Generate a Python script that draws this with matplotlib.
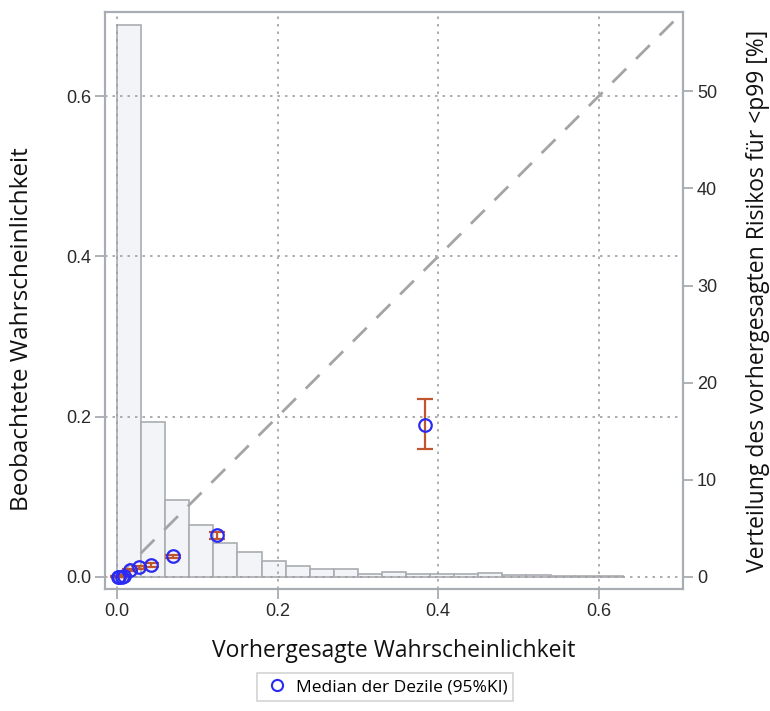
import matplotlib
matplotlib.use("Agg")
import matplotlib.pyplot as plt
from matplotlib.lines import Line2D
import numpy as np

# ---- data ----
bin_edges = [round(0.03 * i, 2) for i in range(22)]
hist_pct = [56.8, 16.0, 7.9, 5.3, 3.5, 2.6, 1.6, 1.1, 0.8, 0.8, 0.35,
            0.5, 0.3, 0.3, 0.3, 0.4, 0.2, 0.2, 0.05, 0.15, 0.15]

pred_median = [0.001, 0.003, 0.006, 0.009, 0.016, 0.027, 0.042, 0.070, 0.124, 0.384]
obs_median = [0.0, 0.0, 0.0005, 0.001, 0.009, 0.012, 0.015, 0.026, 0.052, 0.190]
obs_lower = [0.0, 0.0, 0.0, 0.0, 0.008, 0.0105, 0.013, 0.024, 0.0475, 0.160]
obs_upper = [0.001, 0.001, 0.0015, 0.002, 0.010, 0.0135, 0.017, 0.028, 0.0566, 0.2225]

xticks = [0.0, 0.2, 0.4, 0.6]
yticks_left = [0.0, 0.2, 0.4, 0.6]
yticks_right = [0, 10, 20, 30, 40, 50]

x_label = "Vorhergesagte Wahrscheinlichkeit"
y_label = "Beobachtete Wahrscheinlichkeit"
y2_label = "Verteilung des vorhergesagten Risikos für <p99 [%]"
legend_label = "Median der Dezile (95%KI)"

# ---- style ----
plt.rcParams["font.family"] = ["Liberation Sans", "DejaVu Sans"]
spine_col = "#a8adb3"
grid_col = "#a0a0a0"
label_font = ["Open Sans", "DejaVu Sans"]

fig = plt.figure(figsize=(7.7, 7.11), dpi=100)
ax = fig.add_axes([105 / 770, 1 - 589 / 711, (683 - 105) / 770, (589 - 12) / 711])
ax2 = ax.twinx()

lim_lo, lim_hi = -0.015, 0.705
scale = 82.5
ax.set_xlim(lim_lo, lim_hi)
ax.set_ylim(lim_lo, lim_hi)
ax2.set_ylim(lim_lo * scale, lim_hi * scale)

# histogram on right axis (drawn beneath)
widths = np.diff(bin_edges)
ax2.bar(bin_edges[:-1], hist_pct, width=widths, align="edge",
        facecolor="#f3f4f8", edgecolor="#a9acb0", linewidth=1.2, zorder=1)

ax.set_zorder(ax2.get_zorder() + 1)
ax.patch.set_visible(False)

# grid
ax.set_xticks(xticks)
ax.set_yticks(yticks_left)
ax.grid(True, linestyle=(0, (1.5, 3)), color=grid_col, linewidth=1.2)
ax.set_axisbelow(True)

# diagonal
ax.plot([0, lim_hi], [0, lim_hi], linestyle=(0, (7, 5)), color="#a4a4a4",
        linewidth=2, zorder=2)

# error bars + points
yerr = [np.array(obs_median) - np.array(obs_lower),
        np.array(obs_upper) - np.array(obs_median)]
ax.errorbar(pred_median, obs_median, yerr=yerr, fmt="none", ecolor="#c0562e",
            elinewidth=1.6, capsize=6, capthick=1.6, zorder=3)
ax.plot(pred_median, obs_median, linestyle="none", marker="o", markersize=9,
        markerfacecolor="none", markeredgecolor="#2a2af5", markeredgewidth=1.6,
        zorder=4)

# ticks/labels
ax2.set_yticks(yticks_right)
ax.set_xticklabels([f"{v:.1f}" for v in xticks])
ax.set_yticklabels([f"{v:.1f}" for v in yticks_left])
ax2.set_yticklabels([str(v) for v in yticks_right])
for a in (ax, ax2):
    a.tick_params(direction="out", length=7, width=1.3, color=spine_col,
                  labelsize=13, labelcolor="#2a2a2a", pad=3)
    for s in a.spines.values():
        s.set_color(spine_col)
        s.set_linewidth(1.5)

ax.set_xlabel(x_label, fontsize=16.5, family=label_font, color="#111111", labelpad=14)
ax.set_ylabel(y_label, fontsize=17.5, family=label_font, color="#111111")
ax.yaxis.set_label_coords(-0.122, 0.4506)
ax2.set_ylabel(y2_label, fontsize=16.5, family=label_font, color="#111111", labelpad=21)

handle = Line2D([], [], linestyle="none", marker="o", markersize=8,
                markerfacecolor="none", markeredgecolor="#2a2af5", markeredgewidth=1.5)
leg = fig.legend([handle], [legend_label], loc="center",
                 bbox_to_anchor=(385 / 770, 1 - 687 / 711), frameon=True,
                 fancybox=False, edgecolor="#c8c8c8", handletextpad=0.3,
                 prop={"family": label_font, "size": 12.5}, borderpad=0.35,
                 borderaxespad=0, handlelength=1.6)
leg.get_frame().set_linewidth(1.2)

fig.savefig("out.png", dpi=100)
